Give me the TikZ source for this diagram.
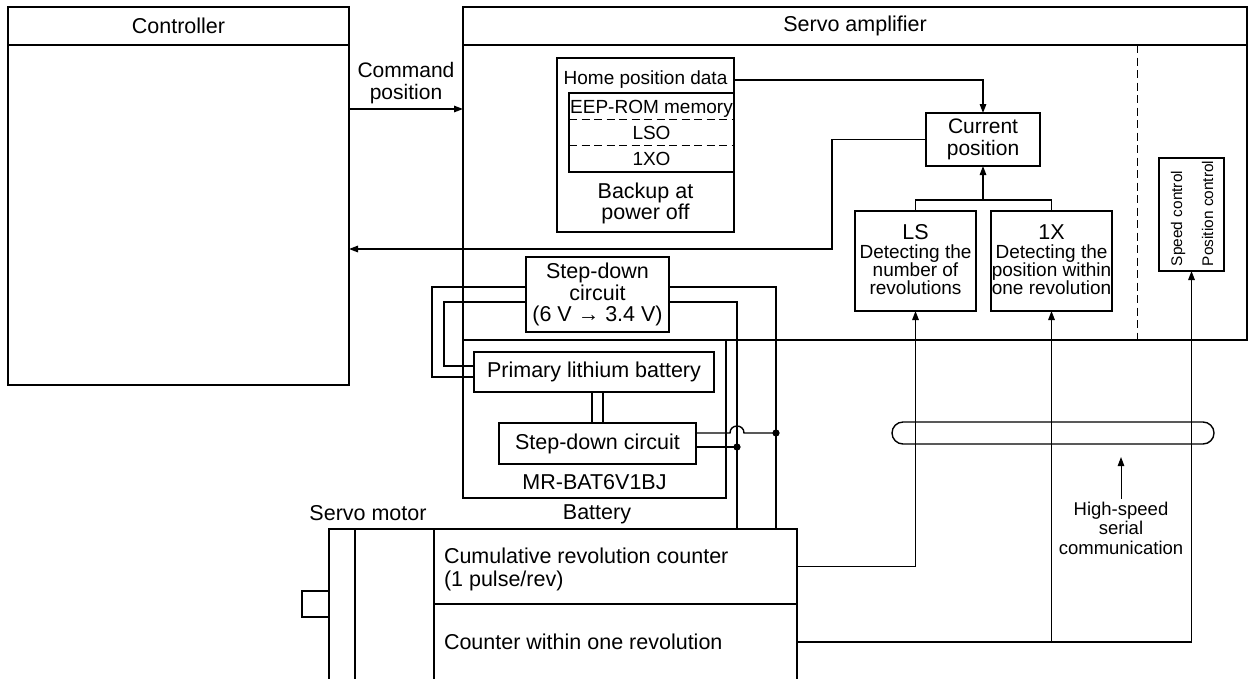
\documentclass[tikz,border=0pt]{standalone}
\usepackage{fontspec}
\setmainfont{Liberation Sans}
\usetikzlibrary{arrows.meta,positioning}

\begin{document}
\begin{tikzpicture}[
    x=1pt, y=-1pt, line width=1.4pt,
    blk/.style={draw, inner sep=0pt, outer sep=0pt, align=center},
    bigtxt/.style={font=\fontsize{21.5}{21}\selectfont, align=center},
    smalltxt/.style={font=\fontsize{19}{18}\selectfont, align=center},
    lbl/.style={inner sep=0pt, outer sep=0pt},
    arrow/.style={-{Triangle[length=9pt,width=6.5pt]}},
    sep/.style={dash pattern=on 8pt off 4.5pt, line width=1pt}
]
\useasboundingbox (0,0) rectangle (1249,678);
% controller and servo amplifier frames
\node[blk, minimum width=341pt, minimum height=378pt] (ctrl) at (178.5,196) {};
\node[blk, bigtxt, minimum width=341pt, minimum height=38pt, anchor=north] (ctrlhead) at (ctrl.north) {Controller};
\node[blk, minimum width=784pt, minimum height=333pt] (amp) at (855,173.5) {};
\node[blk, bigtxt, minimum width=784pt, minimum height=38pt, anchor=north] (amphead) at (amp.north) {Servo amplifier};
\draw[sep] (amphead.south -| 1137,0) -- (amp.south -| 1137,0);
\node[lbl, font=\fontsize{21}{21.5}\selectfont, align=center] (cmdlbl) at (406,83) {Command\\position};
\draw[arrow] (ctrl.east |- 0,109) -- (amp.west |- 0,109);
% home position memory
\node[blk, minimum width=177pt, minimum height=174pt] (home) at (645.5,145) {};
\node[lbl, smalltxt] (hpd) at (645.5,80) {Home position data};
\node[blk, font=\fontsize{19}{26}\selectfont, minimum width=165pt, minimum height=79pt] (eep) at (651.5,132.5) {EEP-ROM memory\\LSO\\1XO};
\draw[sep] ([yshift=13pt]eep.west) -- ([yshift=13pt]eep.east);
\draw[sep] ([yshift=-13pt]eep.west) -- ([yshift=-13pt]eep.east);
\node[lbl, font=\fontsize{21.5}{21}\selectfont, align=center] (bkp) at (645.5,203) {Backup at\\power off};
% position detection
\node[blk, font=\fontsize{21}{21.5}\selectfont, minimum width=114pt, minimum height=53pt] (cur) at (983,139.5) {Current\\position};
\node[blk, minimum width=121pt, minimum height=100pt] (ls) at (915.5,261) {};
\node[blk, minimum width=121pt, minimum height=100pt, right=15pt of ls] (onex) {};
\node[lbl, bigtxt] (lsname) at (ls.center |- 0,232) {LS};
\node[lbl, smalltxt] (lsdesc) at (ls.center |- 0,270) {Detecting the\\number of\\revolutions};
\node[lbl, bigtxt] (onexname) at (onex.center |- 0,232) {1X};
\node[lbl, smalltxt] (onexdesc) at (onex.center |- 0,270) {Detecting the\\position within\\one revolution};
\node[blk, minimum width=65pt, minimum height=113pt] (spd) at (1191.5,214.5) {};
\node[lbl, rotate=90, anchor=west, font=\fontsize{15.4}{16}\selectfont] (spdlbl) at (1178,266) {Speed control};
\node[lbl, rotate=90, anchor=west, font=\fontsize{15.4}{16}\selectfont] (poslbl) at (1207.5,266) {Position control};
\draw[arrow] (home.east |- hpd) -| (cur.north);
\draw[arrow] (cur.west) -- ++(-94,0) |- (ctrl.east |- 0,249);
\coordinate (join) at (cur.south |- 0,200);
\draw (ls.north) |- (join) -| (onex.north);
\draw[arrow] (join) -- (cur.south);
% battery unit
\node[blk, minimum width=263pt, minimum height=158pt] (bat) at (594.5,419) {};
\node[blk, font=\fontsize{21.5}{21.7}\selectfont, minimum width=143pt, minimum height=75pt, fill=white] (sd1) at (597.5,294.5) {Step-down\\circuit\\(6 V → 3.4 V)};
\node[blk, bigtxt, minimum width=240pt, minimum height=40pt] (prim) at (594,372) {Primary lithium battery};
\node[blk, bigtxt, minimum width=197pt, minimum height=41pt] (sd2) at (597.5,443.5) {Step-down circuit};
\node[lbl, bigtxt] (batname) at (594.5,482) {MR-BAT6V1BJ};
\node[lbl, bigtxt] (batlbl) at (597,514) {Battery};
% servo motor
\node[blk, minimum width=468pt, minimum height=151pt] (motor) at (563,604.5) {};
\node[blk, minimum width=27pt, minimum height=26pt] (shaft) at (315.5,604) {};
\draw (motor.north west) ++(26,0) -- ++(0,151);
\node[blk, minimum width=363pt, minimum height=75pt] (cum) at (615.5,566.5) {};
\node[blk, minimum width=363pt, minimum height=76pt] (cwr) at (615.5,642) {};
\node[lbl, anchor=west, font=\fontsize{21.5}{23}\selectfont, align=left] (cumtxt) at (444,569.5) {Cumulative revolution counter\\(1 pulse/rev)};
\node[lbl, anchor=west, bigtxt] (cwrtxt) at (444,642) {Counter within one revolution};
\node[lbl, bigtxt] (motlbl) at (368,513) {Servo motor};
% battery wiring
\coordinate (bus1) at ([xshift=447pt]motor.north west);
\coordinate (bus2) at ([xshift=408pt]motor.north west);
\draw ([yshift=7.5pt]sd1.west) -- ++(-94,0) |- ([yshift=-5pt]prim.west);
\draw ([yshift=-7.5pt]sd1.west) -- ++(-82,0) |- ([yshift=6pt]prim.west);
\draw ([yshift=7.5pt]sd1.east) -| (bus1);
\draw ([yshift=-7.5pt]sd1.east) -| (bus2);
\draw ([xshift=-5.5pt]sd2.north) -- ([xshift=-5.5pt]sd2.north |- prim.south);
\draw ([xshift=5.5pt]sd2.north) -- ([xshift=5.5pt]sd2.north |- prim.south);
\coordinate (dot1) at ([yshift=10.5pt]sd2.east -| bus1);
\coordinate (dot2) at ([yshift=-3.5pt]sd2.east -| bus2);
\draw ([yshift=10.5pt]sd2.east) -- ++(34,0) .. controls +(0,-9.3) and +(0,-9.3) .. ++(14,0) -- (dot1);
\draw ([yshift=-3.5pt]sd2.east) -- (dot2);
\fill (dot1) circle[radius=3.6pt];
\fill (dot2) circle[radius=3.6pt];
% serial communication
\node[blk, minimum width=322pt, minimum height=22pt, rounded corners=11pt] (cable) at (1053,433) {};
\draw[arrow] (cum.east) -| (ls.south);
\draw[arrow] (cwr.east) -| (spd.south);
\draw[arrow] (cwr.east -| onex.south) -- (onex.south);
\node[lbl, font=\fontsize{18.5}{19.5}\selectfont, align=center, inner sep=3pt] (hs) at (1121,528) {High-speed\\serial\\communication};
\coordinate (hstip) at (1121,457);
\draw[arrow, line width=1pt] (hs.north) -- (hstip);
\end{tikzpicture}
\end{document}
